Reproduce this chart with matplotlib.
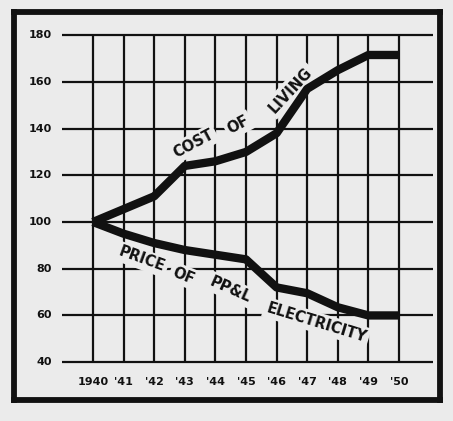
import matplotlib
matplotlib.use("Agg")
import matplotlib.pyplot as plt

years = [1940, 1941, 1942, 1943, 1944, 1945, 1946, 1947, 1948, 1949, 1950]
year_labels = ["1940", "'41", "'42", "'43", "'44", "'45", "'46", "'47", "'48", "'49", "'50"]
cost_of_living = [100, 105.5, 111, 124, 126, 130, 138, 157, 165, 171.5, 171.5]
electricity = [100, 95, 91, 88, 86, 84, 72, 69.5, 63.5, 60, 60]
y_ticks = [40, 60, 80, 100, 120, 140, 160, 180]

bg = "#ebebeb"
ink = "#111111"
font = dict(family="DejaVu Sans", fontweight="bold")

fig = plt.figure(figsize=(4.53, 4.21), dpi=100, facecolor=bg)
ax = fig.add_axes([14 / 453, 1 - 400 / 421, 426 / 453, 388 / 421], facecolor=bg)
ax.set_xlim(1937.42, 1951.34)
ax.set_ylim(23.8, 189.9)
ax.set_xticks([])
ax.set_yticks([])
for s in ax.spines.values():
    s.set_linewidth(4.2)
    s.set_color(ink)

# grid
ax.hlines(y_ticks, 1939.0, 1951.1, color=ink, lw=1.6, zorder=1)
ax.vlines(years, y_ticks[0], y_ticks[-1], color=ink, lw=1.6, zorder=1)

# axis labels
for y in y_ticks:
    ax.text(1938.65, y, str(y), ha="right", va="center", fontsize=8, color=ink, **font)
for x, lab in zip(years, year_labels):
    ax.text(x, 31.5, lab, ha="center", va="center", fontsize=8, color=ink, **font)

# curves
ax.plot(years, cost_of_living, color=ink, lw=6, solid_joinstyle="round",
        solid_capstyle="butt", zorder=4)
ax.plot(years, electricity, color=ink, lw=6, solid_joinstyle="round",
        solid_capstyle="butt", zorder=4)

# curve labels with paper-coloured halo
box = dict(facecolor=bg, edgecolor="none", pad=2)
lab_font = dict(family="DejaVu Sans", fontweight="heavy", fontsize=10.5, color=ink,
                ha="center", va="center", zorder=3, bbox=box)
ax.text(1943.3, 133.5, "COST", rotation=28, **lab_font)
ax.text(1944.75, 141.5, "OF", rotation=28, **lab_font)
ax.text(1946.45, 156.5, "LIVING", rotation=47, **lab_font)
ax.text(1941.6, 84.0, "PRICE", rotation=-20, **lab_font)
ax.text(1942.95, 77.0, "OF", rotation=-22, **lab_font)
ax.text(1944.5, 71.0, "PP&L", rotation=-24, **lab_font)
ax.text(1947.3, 57.0, "ELECTRICITY", rotation=-17, **lab_font)

fig.savefig("out.png", dpi=100, facecolor=bg)
